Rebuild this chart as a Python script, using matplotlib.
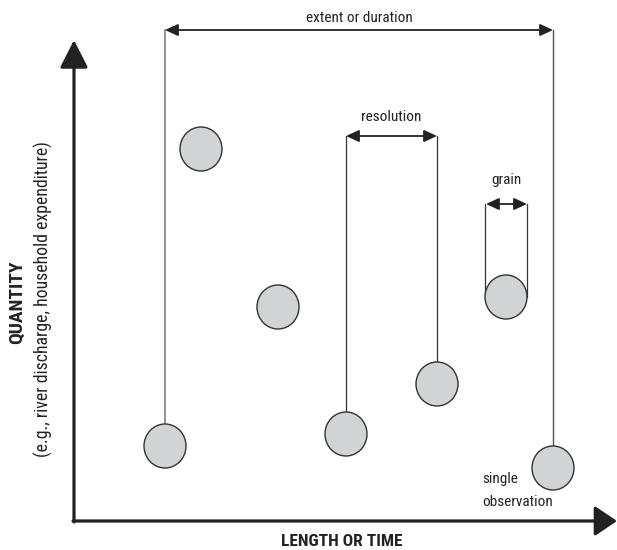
import matplotlib
matplotlib.use("Agg")
import matplotlib.pyplot as plt
from matplotlib.patches import Ellipse

# Observation positions (pixel-like units, y downward)
obs_x = [165, 201, 278, 346, 437, 506, 553]
obs_y = [446, 149, 307, 434, 384, 297, 468]

# Dimension annotations: label, x-start, x-end, arrow y, label gap
dim_labels = ["extent or duration", "resolution", "grain"]
dim_x0 = [165, 346, 486]
dim_x1 = [553, 437, 527]
dim_y = [30, 136, 204]
dim_gap = [8, 15, 20]

FONT = ["Liberation Sans Narrow", "Roboto Condensed", "Open Sans Condensed", "DejaVu Sans"]
ST = "condensed"

W, H = 617, 550
fig = plt.figure(figsize=(W / 100, H / 100), dpi=100)
ax = fig.add_axes([0, 0, 1, 1])
ax.set_xlim(0, W)
ax.set_ylim(H, 0)
ax.axis("off")

r_x, r_y = 21, 22

# extent vertical lines: to first and last observation
ax.plot([obs_x[0], obs_x[0]], [dim_y[0], obs_y[0] - r_y], color="#888888", lw=1.3, zorder=1)
ax.plot([obs_x[6], obs_x[6]], [dim_y[0], obs_y[6] - r_y], color="#555555", lw=1.0, zorder=1)
# resolution vertical lines
ax.plot([obs_x[3], obs_x[3]], [dim_y[1], obs_y[3] - r_y], color="#333333", lw=0.9, zorder=1)
ax.plot([obs_x[4], obs_x[4]], [dim_y[1], obs_y[4] - r_y], color="#333333", lw=0.9, zorder=1)
# grain vertical lines (tangent to circle)
ax.plot([obs_x[5] - r_x, obs_x[5] - r_x], [dim_y[2], obs_y[5]], color="#333333", lw=0.9, zorder=1)
ax.plot([obs_x[5] + r_x, obs_x[5] + r_x], [dim_y[2], obs_y[5]], color="#333333", lw=0.9, zorder=1)

# circles
for x, y in zip(obs_x, obs_y):
    ax.add_patch(Ellipse((x, y), 2 * r_x, 2 * r_y, facecolor="#d1d3d4",
                         edgecolor="#333333", lw=1.0, zorder=3))

# dimension arrows + labels
for lab, x0, x1, y, g in zip(dim_labels, dim_x0, dim_x1, dim_y, dim_gap):
    ax.annotate("", xy=(x1, y), xytext=(x0, y),
                arrowprops=dict(arrowstyle="<|-|>,head_length=0.65,head_width=0.3",
                                color="#222222", lw=1.3, shrinkA=0, shrinkB=0,
                                mutation_scale=12))
    ax.text((x0 + x1) / 2, y - g, lab, ha="center", va="baseline",
            fontsize=11, family=FONT, stretch=ST, color="#222222")

# main axes
ax.annotate("", xy=(74, 40), xytext=(74, 522),
            arrowprops=dict(arrowstyle="-|>,head_length=0.85,head_width=0.43",
                            color="#222222", lw=2.3, shrinkA=0, shrinkB=0,
                            mutation_scale=20))
ax.annotate("", xy=(617, 521), xytext=(73, 521),
            arrowprops=dict(arrowstyle="-|>,head_length=0.68,head_width=0.46",
                            color="#222222", lw=2.3, shrinkA=0, shrinkB=0,
                            mutation_scale=20))

ax.text(342, 541, "LENGTH OR TIME", ha="center", va="center", fontsize=12.5,
        fontweight="bold", family=FONT, stretch=ST, color="#222222")
ax.text(17, 302, "QUANTITY", ha="center", va="center", rotation=90, fontsize=14,
        fontweight="bold", family=FONT, stretch=ST, color="#222222")
ax.text(43, 299, "(e.g., river discharge, household expenditure)", ha="center",
        va="center", rotation=90, fontsize=12.8, family=FONT, stretch=ST, color="#222222")

ax.text(482, 483, "single", ha="left", va="baseline", fontsize=11, family=FONT,
        stretch=ST, color="#222222")
ax.text(482, 506, "observation", ha="left", va="baseline", fontsize=11, family=FONT,
        stretch=ST, color="#222222")

fig.savefig("out.png", dpi=100)
